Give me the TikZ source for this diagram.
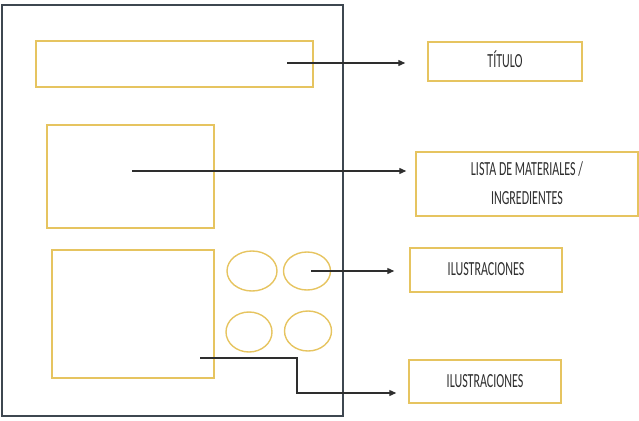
\documentclass[tikz,border=0pt]{standalone}
\usepackage{fontspec}
\usepackage{graphicx}
\usetikzlibrary{shapes.geometric,positioning,calc,arrows.meta}
\newfontfamily\labelfont{Carlito}
\definecolor{gold}{HTML}{E6C460}
\definecolor{frame}{HTML}{3E4750}
\definecolor{ink}{HTML}{2E2E2E}
% condensed label text
\newcommand{\lbl}[1]{\scalebox{0.6}[1]{\begin{tabular}{@{}c@{}}#1\end{tabular}}}

\begin{document}
\begin{tikzpicture}[x=1pt, y=-1pt,
    goldbox/.style={draw=gold, line width=1.5pt, rectangle, inner sep=0pt},
    goldoval/.style={draw=gold, line width=1.4pt, ellipse, inner sep=0pt},
    tagbox/.style={goldbox, text=ink, font=\labelfont\fontsize{20}{29}\selectfont},
    pointer/.style={draw=ink, line width=1.3pt, -{Triangle[length=7pt, width=6pt]}}]
    \useasboundingbox (0,0) rectangle (639,420);

    % Define the page
    \draw[frame, line width=1.5pt] (2,5) rectangle (343,416);

    % Blocks on the page
    \node[goldbox, minimum width=277, minimum height=46] (bar) at (174.5,64) {};
    \node[goldbox, minimum width=167, minimum height=103] (list) at (130.5,176.5) {};
    \node[goldbox, minimum width=162, minimum height=128] (pic) at (133,314) {};
    \node[goldoval, minimum width=50, minimum height=40] (ovA) at (252,271) {};
    \node[goldoval, minimum width=47, minimum height=38] (ovB) at (307,271) {};
    \node[goldoval, minimum width=46, minimum height=40] (ovC) at (249,332) {};
    \node[goldoval, minimum width=47, minimum height=40] (ovD) at (308,331) {};

    % Add labels
    \node[tagbox, minimum width=154, minimum height=39] (tit) at (505,61.5) {\lbl{TÍTULO}};
    \node[tagbox, minimum width=222, minimum height=64] (mat) at (527,184) {\lbl{LISTA DE MATERIALES /\\INGREDIENTES}};
    \node[tagbox, minimum width=152, minimum height=44] (ilA) at (486,270) {\lbl{ILUSTRACIONES}};
    \node[tagbox, minimum width=152, minimum height=43] (ilB) at (485,381.5) {\lbl{ILUSTRACIONES}};

    % Start points of the pointers
    \coordinate (sBar) at (287,63);
    \coordinate (sList) at (132,171);
    \coordinate (sOv) at (311,271);
    \coordinate (sPic) at (200,358);
    \coordinate (kPic) at (297,393);

    % Draw the pointers
    \draw[pointer, shorten >=22pt] (sBar) -- (sBar -| tit.west);
    \draw[pointer, shorten >=9pt] (sList) -- (sList -| mat.west);
    \draw[pointer, shorten >=15pt] (sOv) -- (sOv -| ilA.west);
    \draw[pointer, shorten >=12pt] (sPic) -| (kPic) -- (kPic -| ilB.west);
\end{tikzpicture}
\end{document}
